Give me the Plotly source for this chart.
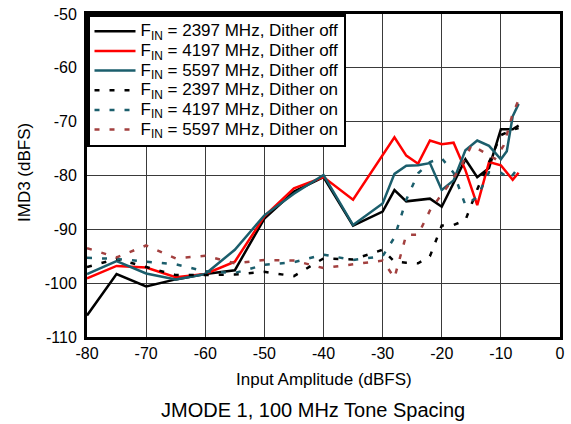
import plotly.graph_objects as go

# ---- data ----
x_2397_off = [-80, -75, -70, -65, -60, -55, -50, -45, -40, -35, -30, -28, -26, -24, -22, -20, -18, -16, -14, -12, -10, -8, -7]
y_2397_off = [-106, -98.3, -100.6, -99.3, -98.3, -97.6, -88, -83, -80.3, -89.3, -86.7, -82.7, -84.8, -84.6, -84.3, -85.8, -81.5, -77, -80.3, -78.6, -71.4, -71.4, -70.7]

x_4197_off = [-80, -75, -70, -65, -60, -55, -50, -45, -40, -35, -28, -26, -24, -22, -20, -18, -16, -14, -12, -10, -8, -7]
y_4197_off = [-99.1, -96.8, -97.1, -98.9, -98.3, -96, -87.6, -82.4, -80.3, -84.5, -72.9, -76.3, -77.8, -73.5, -74.2, -73.9, -79, -85.5, -77.5, -78.1, -80.8, -79.5]

x_5597_off = [-80, -75, -70, -65, -60, -55, -50, -45, -40, -35, -30, -28, -26, -24, -22, -20, -18, -16, -14, -12, -10, -9, -8, -7]
y_5597_off = [-98.3, -95.9, -98.2, -99.3, -98.3, -93.8, -87.4, -83.4, -79.9, -89.2, -85.2, -79.7, -78.2, -78.1, -77.7, -82.7, -80.9, -75.3, -73.5, -74.5, -77, -75.5, -69, -66.7]

x_2397_on = [-80, -75, -70, -65, -60, -55, -50, -45, -40, -35, -30, -28, -26, -24, -22, -20, -18, -16, -14, -12, -10, -8, -7]
y_2397_on = [-97, -95.5, -97, -98.5, -98.5, -98.4, -97.9, -98.7, -95.4, -95.6, -93.8, -96, -96.2, -96.3, -95, -89.3, -89.2, -88.3, -82.6, -77.5, -72.5, -71.5, -71.2]

x_4197_on = [-80, -75, -70, -65, -60, -55, -50, -45, -40, -35, -30, -28, -26, -24, -22, -20, -18, -16, -14, -12, -10, -8.5, -7]
y_4197_on = [-95.3, -95.5, -96, -96.5, -97.8, -98.1, -96.6, -96.1, -94.7, -95.7, -95, -91.5, -84.5, -79.6, -77.5, -76.8, -79.5, -85.5, -84, -79.4, -79.5, -80.6, -78.5]

x_5597_on = [-80, -75, -70, -65, -60, -55, -50, -45, -40, -35, -30, -28, -26, -24, -22, -20, -18, -16, -15, -13, -11, -9.5, -8, -7]
y_5597_on = [-93.5, -95.2, -93, -95.4, -94.9, -96.3, -95.7, -95.8, -97.2, -96.5, -95.8, -99, -91, -91, -86.5, -83.5, -80.5, -76.8, -74.4, -75.6, -76.9, -74.4, -68.5, -66]

x_ticks = [-80, -70, -60, -50, -40, -30, -20, -10, 0]
y_ticks = [-110, -100, -90, -80, -70, -60, -50]

LEG = '<span style="font-size:17px">F<sub>IN</sub> = {} MHz, Dither {}</span>'

series = [
    (x_2397_off, y_2397_off, ("2397", "off"), "#000000", "solid"),
    (x_4197_off, y_4197_off, ("4197", "off"), "#ff0000", "solid"),
    (x_5597_off, y_5597_off, ("5597", "off"), "#1b5e6c", "solid"),
    (x_2397_on, y_2397_on, ("2397", "on"), "#000000", "5px,10px"),
    (x_4197_on, y_4197_on, ("4197", "on"), "#1b5e6c", "5px,10px"),
    (x_5597_on, y_5597_on, ("5597", "on"), "#a3403f", "5px,10px"),
]

fig = go.Figure()
for xs, ys, (f, d), color, dash in series:
    fig.add_trace(go.Scatter(x=xs, y=ys, name=LEG.format(f, d), mode="lines",
                             line=dict(color=color, width=2.5, dash=dash)))

FONT = "Liberation Sans, Arial, sans-serif"
L, R, T, B = 87, 11, 14, 87
PW, PH = 571 - L - R, 424 - T - B

fig.update_layout(
    template="none",
    width=571, height=424,
    margin=dict(l=L, r=R, t=T, b=B, autoexpand=False),
    paper_bgcolor="white", plot_bgcolor="white",
    font=dict(family=FONT, size=16, color="#000000"),
    showlegend=True,
    legend=dict(x=0, y=1, xanchor="left", yanchor="top",
                bgcolor="white", bordercolor="#000000", borderwidth=2.5,
                font=dict(family=FONT, size=12.8, color="#000000"),
                tracegroupgap=0, itemwidth=41),
    xaxis=dict(range=[-80, 0], tickvals=x_ticks, ticktext=[str(v) for v in x_ticks],
               showgrid=True, gridcolor="#3a3a3a", gridwidth=1,
               showline=True, linecolor="#000000", linewidth=3, mirror=True,
               ticks="", zeroline=False, automargin=False, ticklabelstandoff=0,
               tickfont=dict(family=FONT, size=16)),
    yaxis=dict(range=[-110, -50], tickvals=y_ticks, ticktext=[str(v) for v in y_ticks],
               showgrid=True, gridcolor="#3a3a3a", gridwidth=1,
               showline=True, linecolor="#000000", linewidth=3, mirror=True,
               ticks="", zeroline=False, automargin=False, ticklabelstandoff=4,
               tickfont=dict(family=FONT, size=16)),
    annotations=[
        dict(text="Input Amplitude (dBFS)", xref="paper", yref="paper",
             x=0.5, y=-(379 - (T + PH)) / PH,
             xanchor="center", yanchor="middle", showarrow=False,
             font=dict(family=FONT, size=17, color="#000000")),
        dict(text="IMD3 (dBFS)", xref="paper", yref="paper",
             x=-(L - 24) / PW, y=(T + PH - 172) / PH, textangle=-90,
             xanchor="center", yanchor="middle", showarrow=False,
             font=dict(family=FONT, size=17, color="#000000")),
        dict(text="JMODE 1, 100 MHz Tone Spacing", xref="paper", yref="paper",
             x=(313 - L) / PW, y=-(410 - (T + PH)) / PH,
             xanchor="center", yanchor="middle", showarrow=False,
             font=dict(family=FONT, size=20, color="#000000")),
    ],
)

fig.write_html("out.html", config={"displayModeBar": False},
               post_script="document.body.style.margin='0px';")
